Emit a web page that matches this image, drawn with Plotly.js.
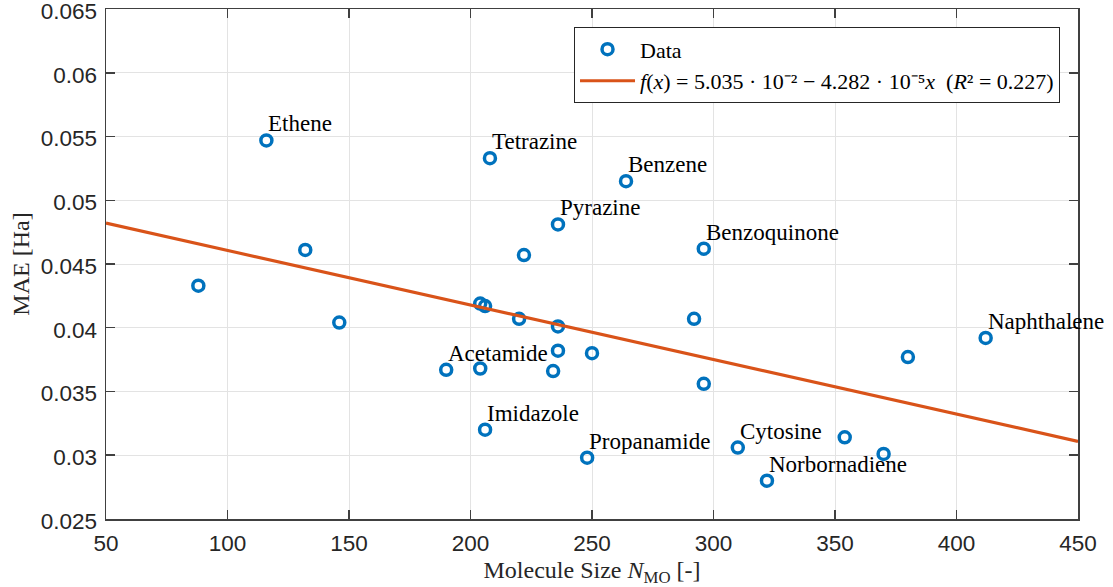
<!DOCTYPE html>
<html>
<head>
<meta charset="utf-8">
<script src="https://cdn.plot.ly/plotly-3.0.1.min.js"></script>
<style>html,body{margin:0;padding:0;background:#fff;}#chart{width:1113px;height:587px;}</style>
</head>
<body>
<div id="chart"></div>
<script>
// Data
const molSize = [88, 116, 132, 146, 190, 204, 204, 206, 206, 208, 220, 222, 234, 236, 236, 236, 248, 250, 264, 292, 296, 296, 310, 322, 354, 370, 380, 412];
const mae = [0.0433, 0.0547, 0.0461, 0.0404, 0.0367, 0.0419, 0.0368, 0.0417, 0.0320, 0.0533, 0.0407, 0.0457, 0.0366, 0.0481, 0.0401, 0.0382, 0.0298, 0.0380, 0.0515, 0.0407, 0.0462, 0.0356, 0.0306, 0.0280, 0.0314, 0.0301, 0.0377, 0.0392];
const molNames = ['', 'Ethene', '', '', 'Acetamide', '', '', '', 'Imidazole', 'Tetrazine', '', '', '', 'Pyrazine', '', '', 'Propanamide', '', 'Benzene', '', 'Benzoquinone', '', 'Cytosine', 'Norbornadiene', '', '', '', 'Naphthalene'];
const fitX = [50, 450];
const fitY = [0.04821, 0.03108];
const xTicks = [50, 100, 150, 200, 250, 300, 350, 400, 450];
const yTicks = [0.025, 0.03, 0.035, 0.04, 0.045, 0.05, 0.055, 0.06, 0.065];
const yTickText = ['0.025', '0.03', '0.035', '0.04', '0.045', '0.05', '0.055', '0.06', '0.065'];
const fitLabel = '<i>f</i>(<i>x</i>) = 5.035 · 10⁻² − 4.282 · 10⁻⁵<i>x</i>  (<i>R</i>² = 0.227)';

const serif = 'Liberation Serif, Times New Roman, serif';
const sans = 'Liberation Sans, Arial, Helvetica, sans-serif';

const traces = [
  {
    x: molSize, y: mae, type: 'scatter', mode: 'markers', name: 'Data',
    marker: {symbol: 'circle-open', size: 11, color: '#0072BD', line: {width: 3.5, color: '#0072BD'}}
  },
  {
    x: fitX, y: fitY, type: 'scatter', mode: 'lines', name: fitLabel,
    line: {color: '#D95319', width: 3.2}
  }
];

const annotations = [];
molNames.forEach((n, i) => {
  if (n) {
    annotations.push({
      x: molSize[i], y: mae[i], xref: 'x', yref: 'y', text: n, showarrow: false,
      xanchor: 'left', yanchor: 'bottom', xshift: 0, yshift: 2,
      font: {family: serif, size: 23, color: '#000'}
    });
  }
});

const axisCommon = {
  showline: true, linecolor: '#404040', linewidth: 1.5, mirror: 'ticks',
  ticks: 'inside', ticklen: 9, tickwidth: 1.5, tickcolor: '#404040',
  showgrid: true, gridcolor: '#e3e3e3', gridwidth: 1, zeroline: false,
  ticklabeloverflow: 'allow',
  tickfont: {family: sans, size: 22.5, color: '#262626'}
};

const layout = {
  width: 1113, height: 587,
  margin: {l: 106, r: 35, t: 9, b: 68},
  paper_bgcolor: '#fff', plot_bgcolor: '#fff',
  showlegend: true,
  legend: {
    x: 0.9815, y: 0.964, xanchor: 'right', yanchor: 'top',
    bgcolor: '#fff', bordercolor: '#262626', borderwidth: 1,
    font: {family: serif, size: 22, color: '#000'},
    itemwidth: 55, tracegroupgap: 0
  },
  xaxis: Object.assign({}, axisCommon, {
    range: [50, 450], tickvals: xTicks, ticktext: xTicks.map(String),
    ticklabelstandoff: 3,
    title: {text: 'Molecule Size <i>N</i><sub>MO</sub> [-]', font: {family: serif, size: 24, color: '#262626'}, standoff: 6}
  }),
  yaxis: Object.assign({}, axisCommon, {
    range: [0.02499, 0.06501], tickvals: yTicks, ticktext: yTickText,
    ticklabelstandoff: 3, ticklabelshift: 2,
    title: {text: 'MAE [Ha]', font: {family: serif, size: 24, color: '#262626'}, standoff: 4}
  }),
  annotations: annotations
};

Plotly.newPlot('chart', traces, layout, {displayModeBar: false, staticPlot: true});
</script>
</body>
</html>
